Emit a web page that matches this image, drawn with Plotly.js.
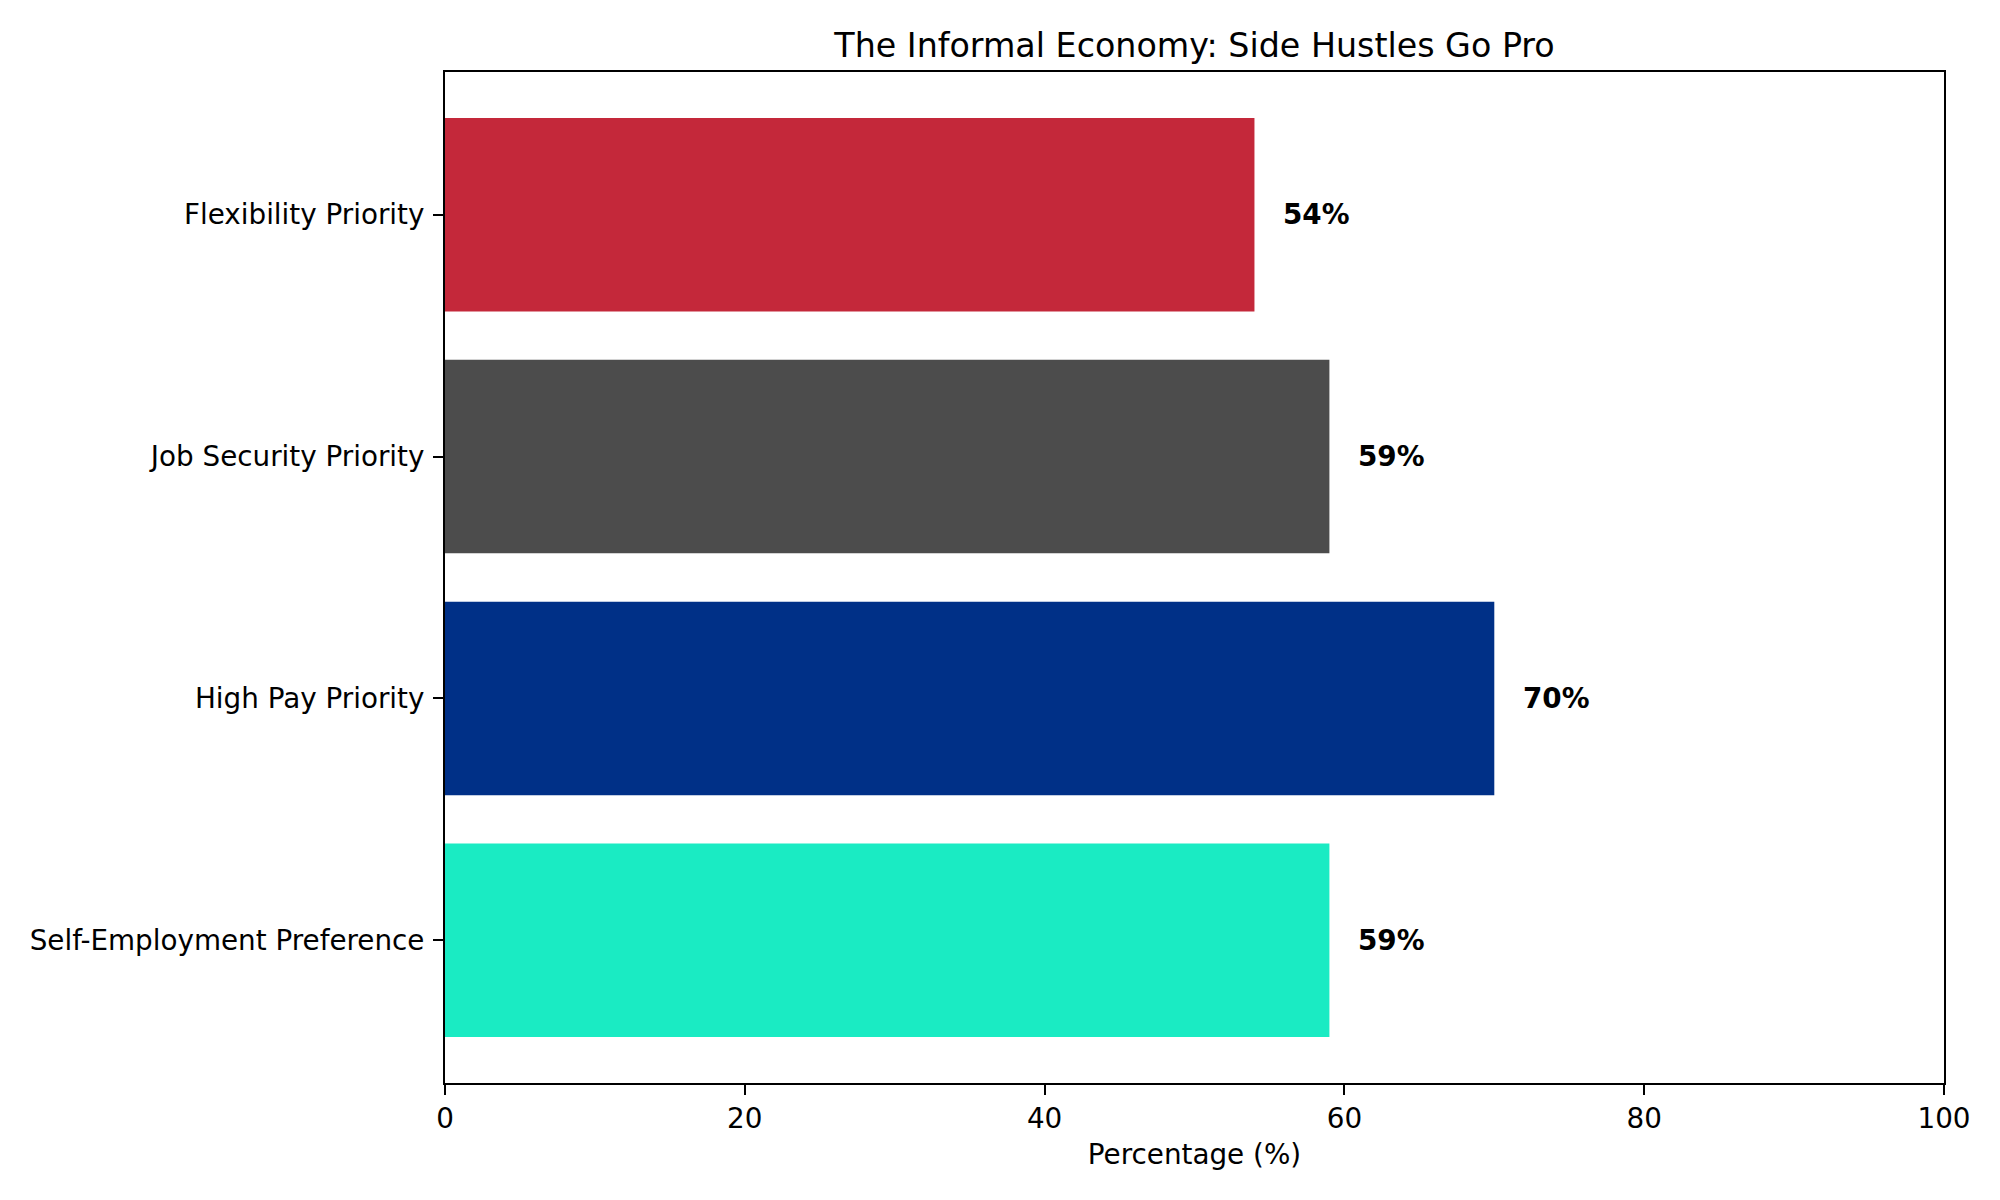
<!DOCTYPE html>
<html>
<head>
<meta charset="utf-8">
<script src="https://cdn.plot.ly/plotly-3.0.1.min.js"></script>
<style>html,body{margin:0;padding:0;background:#fff;}#chart{width:2000px;height:1200px;}</style>
</head>
<body>
<div id="chart"></div>
<script>
const categories = ["Self-Employment Preference", "High Pay Priority", "Job Security Priority", "Flexibility Priority"];
const values = [59, 70, 59, 54];
const barColors = ["#1AEBC3", "#003087", "#4C4C4C", "#C4283A"];
const xTicks = [0, 20, 40, 60, 80, 100];

const font = "DejaVu Sans, Liberation Sans, sans-serif";

const trace = {
  type: "bar",
  orientation: "h",
  x: values,
  y: categories,
  width: 0.8,
  marker: {color: barColors, line: {width: 0}},
  hoverinfo: "skip"
};

const annotations = values.map((v, i) => ({
  x: v + 1.8,
  y: categories[i],
  xref: "x",
  yref: "y",
  text: "<b>" + v + "%</b>",
  showarrow: false,
  xanchor: "left",
  yanchor: "middle",
  font: {family: font, size: 27.8, color: "#000"}
}));

const layout = {
  width: 2000,
  height: 1200,
  margin: {l: 445, r: 56, t: 72, b: 117},
  paper_bgcolor: "#fff",
  plot_bgcolor: "#fff",
  showlegend: false,
  font: {family: font, size: 27.8, color: "#000"},
  title: {
    text: "The Informal Economy: Side Hustles Go Pro",
    font: {family: font, size: 33.3, color: "#000"},
    x: 0.5, xref: "paper", xanchor: "center",
    y: 1 - 45/1200, yref: "container", yanchor: "middle"
  },
  xaxis: {
    range: [0, 100],
    tickvals: xTicks,
    ticktext: xTicks.map(String),
    showgrid: false,
    zeroline: false,
    showline: true,
    linecolor: "#000",
    linewidth: 2,
    mirror: true,
    ticks: "outside",
    ticklen: 10,
    tickwidth: 2,
    tickcolor: "#000",
    tickfont: {family: font, size: 27.8, color: "#000"},
    title: {text: "Percentage (%)", font: {family: font, size: 27.8, color: "#000"}, standoff: 10}
  },
  yaxis: {
    type: "category",
    range: [-0.59, 3.59],
    showgrid: false,
    zeroline: false,
    showline: true,
    linecolor: "#000",
    linewidth: 2,
    mirror: true,
    ticks: "outside",
    ticklen: 10,
    tickwidth: 2,
    tickcolor: "#000",
    ticklabelstandoff: 3,
    tickfont: {family: font, size: 27.8, color: "#000"}
  },
  annotations: annotations
};

Plotly.newPlot("chart", [trace], layout, {displayModeBar: false, staticPlot: true});
</script>
</body>
</html>
